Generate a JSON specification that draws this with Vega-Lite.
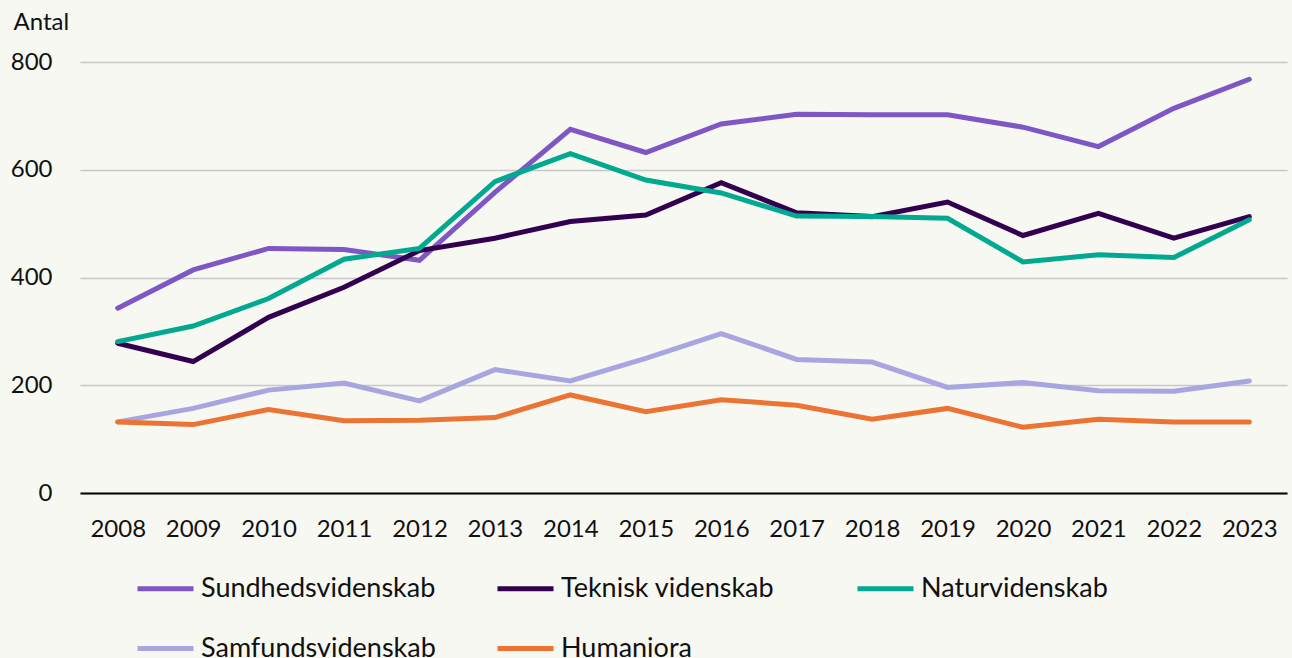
{
  "$schema": "https://vega.github.io/schema/vega-lite/v6.json",
  "width": 1207,
  "height": 431,
  "autosize": {"type": "none"},
  "padding": {"left": 80, "top": 62, "right": 5, "bottom": 165},
  "background": "#F7F8F2",
  "config": {
    "view": {"stroke": null},
    "font": "Lato",
    "axis": {"labelFont": "Lato", "titleFont": "Lato", "labelColor": "#111111", "titleColor": "#111111"},
    "legend": {"labelFont": "Lato", "labelColor": "#111111"}
  },
  "datasets": {
    "rows": [
      {"year": "2008", "field": "Sundhedsvidenskab", "value": 343},
      {"year": "2009", "field": "Sundhedsvidenskab", "value": 414},
      {"year": "2010", "field": "Sundhedsvidenskab", "value": 454},
      {"year": "2011", "field": "Sundhedsvidenskab", "value": 452},
      {"year": "2012", "field": "Sundhedsvidenskab", "value": 432},
      {"year": "2013", "field": "Sundhedsvidenskab", "value": 558},
      {"year": "2014", "field": "Sundhedsvidenskab", "value": 675},
      {"year": "2015", "field": "Sundhedsvidenskab", "value": 632},
      {"year": "2016", "field": "Sundhedsvidenskab", "value": 685},
      {"year": "2017", "field": "Sundhedsvidenskab", "value": 703},
      {"year": "2018", "field": "Sundhedsvidenskab", "value": 702},
      {"year": "2019", "field": "Sundhedsvidenskab", "value": 702},
      {"year": "2020", "field": "Sundhedsvidenskab", "value": 679},
      {"year": "2021", "field": "Sundhedsvidenskab", "value": 643},
      {"year": "2022", "field": "Sundhedsvidenskab", "value": 714},
      {"year": "2023", "field": "Sundhedsvidenskab", "value": 768},
      {"year": "2008", "field": "Teknisk videnskab", "value": 278},
      {"year": "2009", "field": "Teknisk videnskab", "value": 244},
      {"year": "2010", "field": "Teknisk videnskab", "value": 326},
      {"year": "2011", "field": "Teknisk videnskab", "value": 382},
      {"year": "2012", "field": "Teknisk videnskab", "value": 450},
      {"year": "2013", "field": "Teknisk videnskab", "value": 473},
      {"year": "2014", "field": "Teknisk videnskab", "value": 504},
      {"year": "2015", "field": "Teknisk videnskab", "value": 516},
      {"year": "2016", "field": "Teknisk videnskab", "value": 576},
      {"year": "2017", "field": "Teknisk videnskab", "value": 520},
      {"year": "2018", "field": "Teknisk videnskab", "value": 513},
      {"year": "2019", "field": "Teknisk videnskab", "value": 540},
      {"year": "2020", "field": "Teknisk videnskab", "value": 478},
      {"year": "2021", "field": "Teknisk videnskab", "value": 519},
      {"year": "2022", "field": "Teknisk videnskab", "value": 473},
      {"year": "2023", "field": "Teknisk videnskab", "value": 513},
      {"year": "2008", "field": "Naturvidenskab", "value": 281},
      {"year": "2009", "field": "Naturvidenskab", "value": 310},
      {"year": "2010", "field": "Naturvidenskab", "value": 361},
      {"year": "2011", "field": "Naturvidenskab", "value": 434},
      {"year": "2012", "field": "Naturvidenskab", "value": 454},
      {"year": "2013", "field": "Naturvidenskab", "value": 578},
      {"year": "2014", "field": "Naturvidenskab", "value": 630},
      {"year": "2015", "field": "Naturvidenskab", "value": 581},
      {"year": "2016", "field": "Naturvidenskab", "value": 557},
      {"year": "2017", "field": "Naturvidenskab", "value": 514},
      {"year": "2018", "field": "Naturvidenskab", "value": 513},
      {"year": "2019", "field": "Naturvidenskab", "value": 510},
      {"year": "2020", "field": "Naturvidenskab", "value": 429},
      {"year": "2021", "field": "Naturvidenskab", "value": 442},
      {"year": "2022", "field": "Naturvidenskab", "value": 437},
      {"year": "2023", "field": "Naturvidenskab", "value": 507},
      {"year": "2008", "field": "Samfundsvidenskab", "value": 132},
      {"year": "2009", "field": "Samfundsvidenskab", "value": 157},
      {"year": "2010", "field": "Samfundsvidenskab", "value": 191},
      {"year": "2011", "field": "Samfundsvidenskab", "value": 204},
      {"year": "2012", "field": "Samfundsvidenskab", "value": 171},
      {"year": "2013", "field": "Samfundsvidenskab", "value": 229},
      {"year": "2014", "field": "Samfundsvidenskab", "value": 208},
      {"year": "2015", "field": "Samfundsvidenskab", "value": 250},
      {"year": "2016", "field": "Samfundsvidenskab", "value": 296},
      {"year": "2017", "field": "Samfundsvidenskab", "value": 248},
      {"year": "2018", "field": "Samfundsvidenskab", "value": 243},
      {"year": "2019", "field": "Samfundsvidenskab", "value": 196},
      {"year": "2020", "field": "Samfundsvidenskab", "value": 205},
      {"year": "2021", "field": "Samfundsvidenskab", "value": 190},
      {"year": "2022", "field": "Samfundsvidenskab", "value": 189},
      {"year": "2023", "field": "Samfundsvidenskab", "value": 208},
      {"year": "2008", "field": "Humaniora", "value": 132},
      {"year": "2009", "field": "Humaniora", "value": 127},
      {"year": "2010", "field": "Humaniora", "value": 155},
      {"year": "2011", "field": "Humaniora", "value": 134},
      {"year": "2012", "field": "Humaniora", "value": 135},
      {"year": "2013", "field": "Humaniora", "value": 140},
      {"year": "2014", "field": "Humaniora", "value": 182},
      {"year": "2015", "field": "Humaniora", "value": 151},
      {"year": "2016", "field": "Humaniora", "value": 173},
      {"year": "2017", "field": "Humaniora", "value": 163},
      {"year": "2018", "field": "Humaniora", "value": 137},
      {"year": "2019", "field": "Humaniora", "value": 157},
      {"year": "2020", "field": "Humaniora", "value": 122},
      {"year": "2021", "field": "Humaniora", "value": 137},
      {"year": "2022", "field": "Humaniora", "value": 132},
      {"year": "2023", "field": "Humaniora", "value": 132}
    ]
  },
  "data": {"name": "rows"},
  "mark": {"type": "line", "strokeWidth": 5, "strokeCap": "round", "strokeJoin": "miter"},
  "encoding": {
    "x": {
      "field": "year",
      "type": "ordinal",
      "sort": null,
      "scale": {"type": "point", "padding": 0.5},
      "axis": {
        "title": null,
        "labelAngle": 0,
        "ticks": false,
        "grid": false,
        "domainColor": "#000000",
        "domainWidth": 2,
        "labelFontSize": 24,
        "labelPadding": 24
      }
    },
    "y": {
      "field": "value",
      "type": "quantitative",
      "scale": {"domain": [0, 800], "nice": false},
      "axis": {
        "values": [0, 200, 400, 600, 800],
        "domain": false,
        "ticks": false,
        "gridColor": "#C8C8C8",
        "gridWidth": 1.5,
        "labelFontSize": 24,
        "labelPadding": 28,
        "title": "Antal",
        "titleAngle": 0,
        "titleAlign": "left",
        "titleBaseline": "alphabetic",
        "titleX": -67,
        "titleY": -33,
        "titleFontSize": 24,
        "titleFontWeight": "normal"
      }
    },
    "color": {
      "field": "field",
      "type": "nominal",
      "sort": null,
      "scale": {
        "domain": ["Sundhedsvidenskab", "Teknisk videnskab", "Naturvidenskab", "Samfundsvidenskab", "Humaniora"],
        "range": ["#7E57C5", "#33004F", "#00A98F", "#A9A5E0", "#EB7434"]
      },
      "legend": {
        "title": null,
        "orient": "none",
        "legendX": 55,
        "legendY": 496,
        "direction": "horizontal",
        "columns": 3,
        "gridAlign": "all",
        "symbolType": "stroke",
        "symbolSize": 3136,
        "symbolStrokeWidth": 5,
        "labelFontSize": 27,
        "labelOffset": 5,
        "labelLimit": 400,
        "columnPadding": 51,
        "rowPadding": 16
      }
    }
  }
}
